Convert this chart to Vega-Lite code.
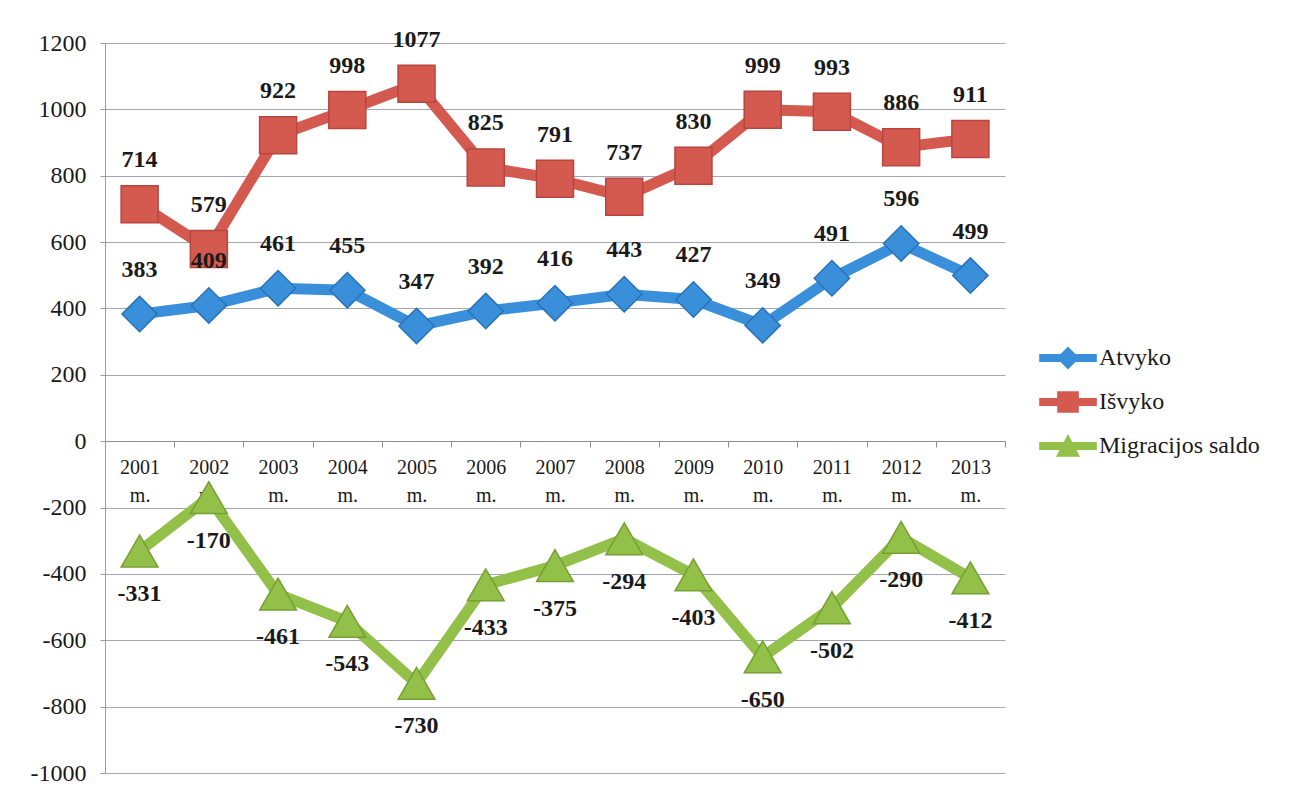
{
  "$schema": "https://vega.github.io/schema/vega-lite/v6.json",
  "width": 900,
  "height": 730,
  "autosize": {"type": "none"},
  "padding": {"left": 105, "top": 43, "right": 285, "bottom": 19},
  "background": "white",
  "config": {
    "font": "Times New Roman, Liberation Serif, serif",
    "view": {"stroke": null},
    "text": {"font": "Times New Roman, Liberation Serif, serif"}
  },
  "data": {
    "values": [
      {"year": "2001", "series": "Atvyko", "value": 383},
      {"year": "2002", "series": "Atvyko", "value": 409},
      {"year": "2003", "series": "Atvyko", "value": 461},
      {"year": "2004", "series": "Atvyko", "value": 455},
      {"year": "2005", "series": "Atvyko", "value": 347},
      {"year": "2006", "series": "Atvyko", "value": 392},
      {"year": "2007", "series": "Atvyko", "value": 416},
      {"year": "2008", "series": "Atvyko", "value": 443},
      {"year": "2009", "series": "Atvyko", "value": 427},
      {"year": "2010", "series": "Atvyko", "value": 349},
      {"year": "2011", "series": "Atvyko", "value": 491},
      {"year": "2012", "series": "Atvyko", "value": 596},
      {"year": "2013", "series": "Atvyko", "value": 499},
      {"year": "2001", "series": "Išvyko", "value": 714},
      {"year": "2002", "series": "Išvyko", "value": 579},
      {"year": "2003", "series": "Išvyko", "value": 922},
      {"year": "2004", "series": "Išvyko", "value": 998},
      {"year": "2005", "series": "Išvyko", "value": 1077},
      {"year": "2006", "series": "Išvyko", "value": 825},
      {"year": "2007", "series": "Išvyko", "value": 791},
      {"year": "2008", "series": "Išvyko", "value": 737},
      {"year": "2009", "series": "Išvyko", "value": 830},
      {"year": "2010", "series": "Išvyko", "value": 999},
      {"year": "2011", "series": "Išvyko", "value": 993},
      {"year": "2012", "series": "Išvyko", "value": 886},
      {"year": "2013", "series": "Išvyko", "value": 911},
      {"year": "2001", "series": "Migracijos saldo", "value": -331},
      {"year": "2002", "series": "Migracijos saldo", "value": -170},
      {"year": "2003", "series": "Migracijos saldo", "value": -461},
      {"year": "2004", "series": "Migracijos saldo", "value": -543},
      {"year": "2005", "series": "Migracijos saldo", "value": -730},
      {"year": "2006", "series": "Migracijos saldo", "value": -433},
      {"year": "2007", "series": "Migracijos saldo", "value": -375},
      {"year": "2008", "series": "Migracijos saldo", "value": -294},
      {"year": "2009", "series": "Migracijos saldo", "value": -403},
      {"year": "2010", "series": "Migracijos saldo", "value": -650},
      {"year": "2011", "series": "Migracijos saldo", "value": -502},
      {"year": "2012", "series": "Migracijos saldo", "value": -290},
      {"year": "2013", "series": "Migracijos saldo", "value": -412}
    ]
  },
  "encoding": {
    "x": {
      "field": "year",
      "type": "ordinal",
      "sort": null,
      "scale": {"type": "band", "paddingInner": 0, "paddingOuter": 0},
      "axis": {
        "title": null,
        "offset": -332,
        "labelAngle": 0,
        "labelAlign": "center",
        "labelFlush": false,
        "labelOverlap": false,
        "labelExpr": "datum.label ? [datum.label, 'm.'] : ''",
        "labelFontSize": 20,
        "labelLineHeight": 28,
        "labelPadding": 10,
        "labelColor": "#1a1a1a",
        "tickBand": "extent",
        "tickSize": 6,
        "tickColor": "#8c8c9c",
        "domainColor": "#8c8c9c",
        "grid": false
      }
    },
    "y": {
      "field": "value",
      "type": "quantitative",
      "scale": {"domain": [-1000, 1200], "nice": false, "zero": false},
      "axis": {
        "title": null,
        "values": [-1000, -800, -600, -400, -200, 0, 200, 400, 600, 800, 1000, 1200],
        "labelExpr": "'' + datum.value",
        "grid": true,
        "gridColor": "#a4a4b8",
        "gridWidth": 1,
        "domainColor": "#9a9aa6",
        "tickColor": "#9a9aa6",
        "tickSize": 5,
        "labelFontSize": 24,
        "labelPadding": 14,
        "labelColor": "#1a1a1a"
      }
    }
  },
  "layer": [
    {
      "mark": {"type": "line", "strokeWidth": 11, "strokeJoin": "round"},
      "encoding": {
        "color": {
          "field": "series",
          "type": "nominal",
          "scale": {
            "domain": ["Atvyko", "Išvyko", "Migracijos saldo"],
            "range": ["#3a8fdb", "#d45a50", "#92c048"]
          },
          "legend": {
            "title": null,
            "orient": "none",
            "legendX": 951,
            "legendY": 303,
            "padding": 0,
            "labelFontSize": 24,
            "labelFont": "Times New Roman, Liberation Serif, serif",
            "labelColor": "#1a1a1a",
            "labelLimit": 400,
            "symbolSize": 576,
            "symbolStrokeWidth": 0,
            "labelOffset": 19,
            "rowPadding": 20,
            "encode": {
              "symbols": {
                "update": {
                  "shape": {"signal": "datum.value === 'Atvyko' ? 'M-2.4,-0.33H2.4V0.33H-2.4Z M0,-0.95L0.95,0L0,0.95L-0.95,0Z' : datum.value === 'Išvyko' ? 'M-2.4,-0.33H2.4V0.33H-2.4Z M-0.9,-0.9H0.9V0.9H-0.9Z' : 'M-2.4,-0.33H2.4V0.33H-2.4Z M0,-1L1,0.9H-1Z'"},
                  "fill": {"scale": "color", "field": "value"},
                  "stroke": {"value": "transparent"},
                  "strokeWidth": {"value": 0},
                  "opacity": {"value": 1},
                  "fillOpacity": {"value": 1}
                }
              }
            }
          }
        }
      }
    },
    {
      "transform": [{"filter": "datum.series === 'Atvyko'"}],
      "mark": {"type": "point", "shape": "diamond", "size": 1250, "filled": true, "opacity": 1, "stroke": "#2a72b8", "strokeWidth": 1.5},
      "encoding": {"color": {"field": "series", "type": "nominal"}}
    },
    {
      "transform": [{"filter": "datum.series === 'Išvyko'"}],
      "mark": {"type": "point", "shape": "square", "size": 1369, "filled": true, "opacity": 1, "stroke": "#b8463e", "strokeWidth": 1.5},
      "encoding": {"color": {"field": "series", "type": "nominal"}}
    },
    {
      "transform": [{"filter": "datum.series === 'Migracijos saldo'"}],
      "mark": {"type": "point", "shape": "triangle-up", "size": 1350, "filled": true, "opacity": 1, "stroke": "#76a034", "strokeWidth": 1.5},
      "encoding": {"color": {"field": "series", "type": "nominal"}}
    },
    {
      "transform": [{"filter": "datum.series !== 'Migracijos saldo'"}],
      "mark": {"type": "text", "dy": -44, "fontSize": 24, "fontWeight": "bold", "color": "#1a1a1a"},
      "encoding": {"text": {"field": "value", "type": "nominal"}}
    },
    {
      "transform": [{"filter": "datum.series === 'Migracijos saldo'"}],
      "mark": {"type": "text", "dy": 43, "fontSize": 24, "fontWeight": "bold", "color": "#1a1a1a"},
      "encoding": {"text": {"field": "value", "type": "nominal"}}
    }
  ]
}
